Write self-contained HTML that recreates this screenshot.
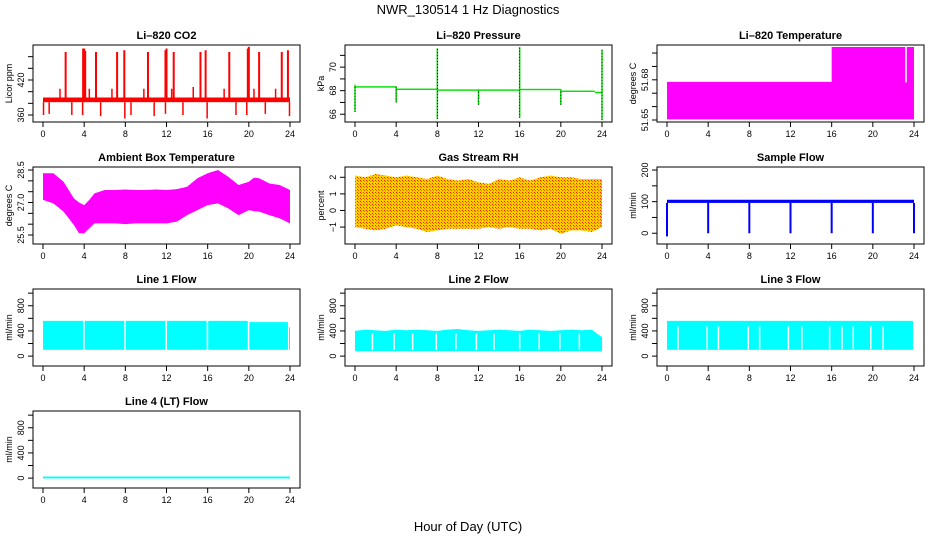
<!DOCTYPE html>
<html><head><meta charset="utf-8"><style>
html,body{margin:0;padding:0;background:#fff;}
svg{display:block;font-family:"Liberation Sans",sans-serif;}
</style></head><body>
<svg id="chart" width="936" height="540" viewBox="0 0 936 540" xmlns="http://www.w3.org/2000/svg">
<defs>
<pattern id="rhpat" width="3" height="3" patternUnits="userSpaceOnUse"><rect width="3" height="3" fill="#ffcc00"/><rect width="1" height="1" fill="#ff2000"/><rect x="1" y="1" width="1" height="1" fill="#ff6000"/></pattern>
</defs>
<text x="468" y="14" font-size="13" text-anchor="middle">NWR_130514  1 Hz Diagnostics</text>
<text x="468" y="531" font-size="13" text-anchor="middle">Hour of Day (UTC)</text>
</svg>
<script>
// ---- data ----
const xTicks=[0,4,8,12,16,20,24];
// CO2
const co2BaseLo=382, co2BaseHi=390;
const co2SpikeHours=[2.2,3.9,4.0,4.1,5.15,7.2,7.9,10.2,11.9,12.0,12.7,15.3,15.8,18.1,19.9,20.0,21.0,23.2,23.8];
const co2SpikeVals=[468,474,474,470,468,468,471,468,471,474,468,468,471,468,474,477,468,468,471];
const co2SmallHours=[1.65,4.5,6.7,9.8,12.5,14.6,17.6,20.5,22.6];
const co2SmallVals=[405,405,405,405,405,408,405,405,405];
const co2DipHours=[0.05,0.6,2.8,3.85,5.6,7.95,8.55,10.8,11.9,13.6,15.95,18.75,19.8,21.6,23.95];
const co2DipVals=[360,362,360,360,358,354,360,358,362,360,354,360,360,362,358];
// Pressure
const presSegStart=[0,4,8,16,20,23.3];
const presSegEnd=[4,8,16,20,23.3,24];
const presSegVal=[68.32,68.12,68.05,68.1,67.95,67.85];
const presSpikeHours=[0,4,8,12,16,20,24];
const presSpikeMin=[66.2,67.0,65.6,66.8,65.7,66.8,65.5];
const presSpikeMax=[68.5,68.35,71.6,68.1,71.7,68.1,71.5];
// Li-820 temperature
const ltHours=[0,16,16,23.15,23.15,23.3,23.3,24];
const ltHi=[51.6785,51.6785,51.7045,51.7045,51.678,51.678,51.7045,51.7045];
const ltLo=51.6505;
// Ambient temperature
const ambHours=[0,1,2,3,3.5,4,4.5,5,6,7,8,9,10,11,12,13,14,15,16,17,18,19,20,20.5,21,22,23,24];
const ambHi=[28.35,28.35,27.96,27.19,27.0,26.88,27.12,27.42,27.58,27.58,27.6,27.58,27.58,27.6,27.58,27.62,27.73,28.12,28.35,28.5,28.19,27.81,27.96,28.15,28.12,27.88,27.81,27.58];
const ambLo=[27.12,26.96,26.58,25.96,25.58,25.58,25.81,26.04,26.04,26.04,26.0,26.04,26.04,26.04,26.04,26.12,26.42,26.65,26.88,26.96,26.73,26.42,26.65,26.6,26.58,26.42,26.27,26.04];
// RH
const rhHours=[0,1,2,3,4,5,6,7,8,9,10,11,12,13,14,15,16,17,18,19,20,21,22,23,24];
const rhHi=[2.1,2.0,2.2,2.1,2.0,2.1,2.0,1.9,2.1,1.9,1.8,1.9,1.7,1.6,1.9,1.8,2.0,1.8,2.0,2.1,2.0,2.0,1.9,1.9,1.9];
const rhLo=[-1.0,-1.1,-1.2,-1.1,-0.9,-1.0,-1.1,-1.3,-1.2,-1.1,-1.1,-1.1,-1.1,-1.0,-1.1,-1.0,-1.1,-1.1,-1.2,-1.1,-1.4,-1.2,-1.2,-1.3,-1.0];
// Sample flow
const sfBaseLo=96, sfBaseHi=106;
const sfDipHours=[0,4,8,12,16,20,24];
const sfDipVals=[-10,0,0,0,0,0,0];
// Line flows
const l1SegStart=[0,4.05,8.05,12.05,16.05,20.05,23.9];
const l1SegEnd=[3.9,7.9,11.9,15.9,19.9,23.8,24];
const l1Hi=[560,560,560,560,560,540,460];
const l1Lo=100;
const l2Hi=[400,420,410,400,420,410,420,410,400,420,430,410,400,410,420,410,400,420,410,400,410,420,410,420,300];
const l2Lo=80;
const l2GapHours=[1.7,3.8,5.6,7.9,9.8,11.8,13.5,16,17.9,19.9,21.8];
const l3Hi=560, l3Lo=100;
const l3GapHours=[1.07,3.9,5.0,7.9,9.0,11.8,13.1,15.8,17.0,18.1,19.8,21.0];
const l4Val=10;

// ---- layout ----
const NS="http://www.w3.org/2000/svg";
const svg=document.getElementById('chart');
const colL=[33,345,657], rowT=[45,167,289,411], W=267, H=77;
function mk(tag,attrs,parent){const e=document.createElementNS(NS,tag);for(const k in attrs)e.setAttribute(k,attrs[k]);(parent||svg).appendChild(e);return e;}

function panel(name,col,row,title,ylab,ymin,ymax,ticks,labels){
  const L=colL[col],T=rowT[row];
  const g=mk('g',{});
  
  
  const sx=h=>L+10+h*(W-20)/24;
  const sy=v=>T+H-(v-ymin)/(ymax-ymin)*H;
  const t=mk('text',{x:L+W/2,y:T-6,'font-size':11,'font-weight':'bold','text-anchor':'middle'},g);
  t.textContent=title;
  
  
  const plot=mk('g',{},g);
  
  
  const box=mk('rect',{x:L,y:T,width:W,height:H,fill:'none',stroke:'#000','stroke-width':1},g);
  
  
  const xa=mk('g',{stroke:'#000'},g);
  
  
  mk('line',{x1:sx(0),x2:sx(24),y1:T+H,y2:T+H},xa);
  xTicks.forEach(v=>{
    mk('line',{x1:sx(v),x2:sx(v),y1:T+H,y2:T+H+5},xa);
    const tl=mk('text',{x:sx(v),y:T+H+15,'font-size':9,'text-anchor':'middle',stroke:'none'},xa);
    tl.textContent=v;
    
    
  });
  const ya=mk('g',{stroke:'#000'},g);
  
  
  mk('line',{x1:L,x2:L,y1:sy(ticks[0]),y2:sy(ticks[ticks.length-1])},ya);
  ticks.forEach((v,i)=>{
    mk('line',{x1:L-5,x2:L,y1:sy(v),y2:sy(v)},ya);
    if(labels[i]!==''){
      const tl=mk('text',{x:0,y:0,'font-size':9,'text-anchor':'middle',stroke:'none',transform:`translate(${L-9},${sy(v)}) rotate(-90)`},ya);
      tl.textContent=labels[i];
      
      
    }
  });
  const yl=mk('text',{x:0,y:0,'font-size':9,'text-anchor':'middle',transform:`translate(${L-21},${T+H/2}) rotate(-90)`},g);
  yl.textContent=ylab;
  
  
  return {sx,sy,plot};
}
function vline(p,h,a,b,color,w,dash){const e=mk('line',{x1:p.sx(h),x2:p.sx(h),y1:p.sy(a),y2:p.sy(b),stroke:color,'stroke-width':w||1.5},p.plot);if(dash)e.setAttribute('stroke-dasharray',dash);return e;}
function band(p,h0,h1,lo,hi,color){return mk('rect',{x:p.sx(h0),y:p.sy(hi),width:Math.max(1,p.sx(h1)-p.sx(h0)),height:p.sy(lo)-p.sy(hi),fill:color},p.plot);}
function poly(p,hours,hi,lo,fill){
  let pts=hours.map((h,i)=>p.sx(h)+','+p.sy(hi[i]));
  for(let i=hours.length-1;i>=0;i--)pts.push(p.sx(hours[i])+','+p.sy(lo[i]));
  return mk('polygon',{points:pts.join(' '),fill:fill},p.plot);
}

// CO2
let p=panel('co2',0,0,'Li\u2013820 CO2','Licor ppm',348,480,[360,380,400,420,440,460],['360','','','420','','']);
let e=band(p,0,24,co2BaseLo,co2BaseHi,'#ff0000');
co2SpikeHours.forEach((h,i)=>{const s=vline(p,h,co2BaseHi,co2SpikeVals[i],'#ff0000',2);});
co2SmallHours.forEach((h,i)=>{const s=vline(p,h,co2BaseHi,co2SmallVals[i],'#ff0000',1.5);});
co2DipHours.forEach((h,i)=>{const s=vline(p,h,co2BaseLo,co2DipVals[i],'#ff0000',1.5);});

// Pressure
p=panel('pressure',1,0,'Li\u2013820 Pressure','kPa',65.34,71.88,[66,67,68,69,70,71],['66','','68','','70','']);
presSegStart.forEach((h,i)=>{const s=band(p,h,presSegEnd[i],presSegVal[i]-0.06,presSegVal[i]+0.06,'#00e000');});
presSpikeHours.forEach((h,i)=>{const s=vline(p,h,presSpikeMin[i],presSpikeMax[i],'#00e000',1.5);
 const d=vline(p,h,presSpikeMin[i],presSpikeMax[i],'#000',0.8,'1,2');});

// Li-820 temperature
p=panel('licor-temp',2,0,'Li\u2013820 Temperature','degrees C',51.6485,51.706,[51.65,51.66,51.67,51.68,51.69,51.70],['51.65','','','51.68','','']);
e=poly(p,ltHours,ltHi,ltHours.map(()=>ltLo),'#ff00ff');

// Ambient
p=panel('ambient-temp',0,1,'Ambient Box Temperature','degrees C',25.085,28.64,[25.5,26,26.5,27,27.5,28,28.5],['25.5','','','27.0','','','28.5']);
e=poly(p,ambHours,ambHi,ambLo,'#ff00ff');

// RH
p=panel('gas-rh',1,1,'Gas Stream RH','percent',-2.02,2.62,[-1,0,1,2],['\u22121','0','1','2']);
e=poly(p,rhHours,rhHi,rhLo,'url(#rhpat)');

// Sample flow
p=panel('sample-flow',2,1,'Sample Flow','ml/min',-34,209.6,[0,50,100,150,200],['0','','100','','200']);
e=band(p,0,24,sfBaseLo,sfBaseHi,'#0000ff');
sfDipHours.forEach((h,i)=>{const s=vline(p,h,sfBaseLo,sfDipVals[i],'#0000ff',2);});

const flowTicks=[0,200,400,600,800,1000], flowLabels=['0','','400','','800',''];
// Line 1
p=panel('line1-flow',0,2,'Line 1 Flow','ml/min',-157,1066,flowTicks,flowLabels);
l1SegStart.forEach((h,i)=>{const s=band(p,h,l1SegEnd[i],l1Lo,l1Hi[i],'#00ffff');});
// Line 2
p=panel('line2-flow',1,2,'Line 2 Flow','ml/min',-157,1066,flowTicks,flowLabels);
e=poly(p,rhHours,l2Hi,rhHours.map(()=>l2Lo),'#00ffff');
l2GapHours.forEach(h=>{const s=vline(p,h,l2Lo+20,360,'#fff',1.5);});
// Line 3
p=panel('line3-flow',2,2,'Line 3 Flow','ml/min',-157,1066,flowTicks,flowLabels);
e=band(p,0,23.9,l3Lo,l3Hi,'#00ffff');
l3GapHours.forEach(h=>{const s=vline(p,h,l3Lo+10,470,'#fff',1.5);});
// Line 4
p=panel('line4-flow',0,3,'Line 4 (LT) Flow','ml/min',-157,1066,flowTicks,flowLabels);
e=band(p,0,24,l4Val-15,l4Val+15,'#00ffff');
</script>
</body></html>
